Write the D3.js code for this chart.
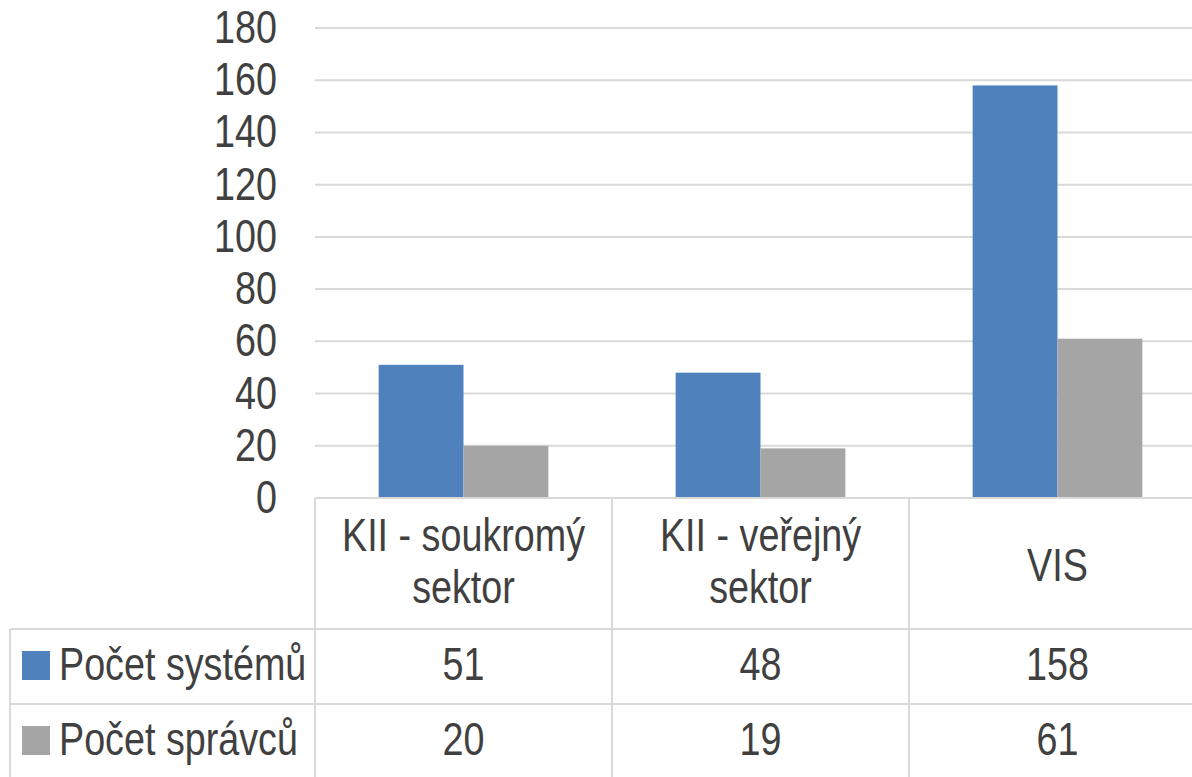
<!DOCTYPE html>
<html>
<head>
<meta charset="utf-8">
<script src="https://cdn.jsdelivr.net/npm/d3@7"></script>
<style>
  body { margin: 0; background: #fff; }
  svg text { font-family: "Liberation Sans", Arial, sans-serif; font-size: 46px; fill: #404040; }
</style>
</head>
<body>
<div id="chart"></div>
<script>
// data
const categories = [['KII - soukromý', 'sektor'], ['KII - veřejný', 'sektor'], ['VIS']];
const seriesNames = ['Počet systémů', 'Počet správců'];
const systemsValues = [51, 48, 158];
const managersValues = [20, 19, 61];
const yTicks = [0, 20, 40, 60, 80, 100, 120, 140, 160, 180];
const colors = ['#4f81bd', '#a5a5a5'];

const width = 1192, height = 777;
const plotLeft = 315, plotRight = 1206, plotTop = 28, plotBottom = 498;
const rowH = 75;
const squeeze = 0.82; // narrow the glyphs, the original font is condensed

const svg = d3.select('#chart').append('svg')
    .attr('width', width)
    .attr('height', height);

const keys = categories.map((c, i) => i);
const x = d3.scaleBand().domain(keys).range([plotLeft, plotRight]);
const xInner = d3.scaleBand().domain([0, 1]).range([0, x.bandwidth()]).paddingInner(0).paddingOuter(0.75);
const y = d3.scaleLinear().domain([0, 180]).range([plotBottom, plotTop]);

const gridColor = '#d9d9d9';

function label(parent, tx, ty, txt, anchor) {
    return parent.append('text')
        .attr('transform', `translate(${tx},${ty}) scale(${squeeze},1)`)
        .attr('text-anchor', anchor || 'start')
        .text(txt);
}

// gridlines
svg.append('g').selectAll('line')
    .data(yTicks.filter(t => t > 0))
    .enter().append('line')
    .attr('x1', plotLeft).attr('x2', width)
    .attr('y1', d => y(d)).attr('y2', d => y(d))
    .attr('stroke', gridColor).attr('stroke-width', 2);

// y tick labels
const yLab = svg.append('g');
yTicks.forEach(t => label(yLab, 277, y(t) + 15, t, 'end'));

// bars
const series = [systemsValues, managersValues];
series.forEach((vals, s) => {
    svg.append('g').selectAll('rect')
        .data(vals)
        .enter().append('rect')
        .attr('x', (d, i) => x(i) + xInner(s))
        .attr('width', xInner.bandwidth())
        .attr('y', d => y(d))
        .attr('height', d => y(0) - y(d))
        .attr('fill', colors[s]);
});

// data table lines
const table = svg.append('g').attr('stroke', gridColor).attr('stroke-width', 2);
table.append('line').attr('x1', plotLeft).attr('x2', width).attr('y1', plotBottom).attr('y2', plotBottom);
const row1 = 629, row2 = row1 + rowH;
[row1, row2].forEach(ry => {
    table.append('line').attr('x1', 10).attr('x2', width).attr('y1', ry).attr('y2', ry);
});
table.append('line').attr('x1', 10).attr('x2', 10).attr('y1', row1).attr('y2', height);
keys.concat([3]).forEach(i => {
    const xx = i < 3 ? x(i) : plotRight;
    table.append('line').attr('x1', xx).attr('x2', xx).attr('y1', plotBottom).attr('y2', height);
});

// category labels
const catG = svg.append('g');
categories.forEach((lines, i) => {
    const startY = lines.length === 1 ? 581 : 551;
    lines.forEach((ln, j) => {
        label(catG, x(i) + x.bandwidth() / 2, startY + j * 52, ln, 'middle');
    });
});

// legend rows + values
series.forEach((vals, s) => {
    const ry = row1 + s * rowH;
    svg.append('rect')
        .attr('x', 22).attr('y', ry + 22)
        .attr('width', 28).attr('height', 29)
        .attr('fill', colors[s]);
    label(svg, 59, ry + 51, seriesNames[s]);
    vals.forEach((v, i) => label(svg, x(i) + x.bandwidth() / 2, ry + 51, v, 'middle'));
});
</script>
</body>
</html>
